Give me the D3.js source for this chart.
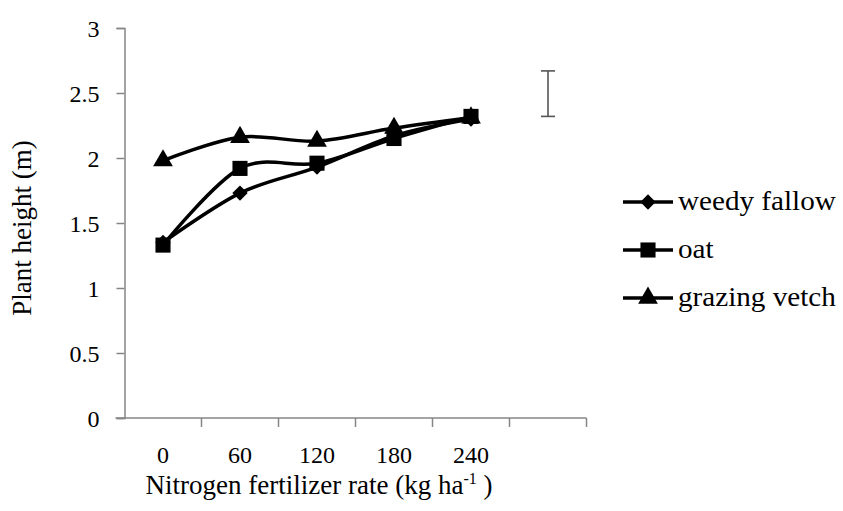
<!DOCTYPE html>
<html>
<head>
<meta charset="utf-8">
<script src="https://cdn.jsdelivr.net/npm/d3@7/dist/d3.min.js"></script>
<style>
  html, body { margin: 0; padding: 0; background: #fff; }
  svg { display: block; }
  svg text { font-family: 'Liberation Serif', 'DejaVu Serif', serif !important; fill: #000; }
</style>
</head>
<body>
<svg id="chart" width="843" height="511"></svg>
<script>
// ---- data ----
const categories = ["0", "60", "120", "180", "240", ""];
const nRates = ["0", "60", "120", "180", "240"];
const weedyFallow = [1.35, 1.73, 1.93, 2.17, 2.30];
const oat = [1.33, 1.92, 1.96, 2.15, 2.32];
const grazingVetch = [1.98, 2.16, 2.13, 2.23, 2.31];
const seriesNames = ["weedy fallow", "oat", "grazing vetch"];
const seriesSymbols = ["diamond", "square", "triangle"];
const yTicks = [0, 0.5, 1, 1.5, 2, 2.5, 3];
const lsdBar = { category: "", low: 2.32, high: 2.67 };

const series = [
  { name: seriesNames[0], symbol: seriesSymbols[0], values: weedyFallow },
  { name: seriesNames[1], symbol: seriesSymbols[1], values: oat },
  { name: seriesNames[2], symbol: seriesSymbols[2], values: grazingVetch }
];

const FONT = "Liberation Serif";

// ---- layout ----
const svg = d3.select("#chart");
const x = d3.scaleBand().domain(categories).range([124.5, 586.5]);
const y = d3.scaleLinear().domain([0, 3]).range([418, 28]);
const axisColor = "#868686";

// y axis
const gy = svg.append("g").attr("transform", `translate(${x.range()[0]},0)`)
  .call(d3.axisLeft(y).tickValues(yTicks).tickSize(8).tickPadding(17)
        .tickFormat(d3.format("")));
gy.attr("font-family", FONT);
gy.select(".domain").attr("stroke", axisColor).attr("stroke-width", 1.5);
gy.selectAll(".tick line").attr("stroke", axisColor).attr("stroke-width", 1.5);
gy.selectAll(".tick text").attr("font-size", 24).attr("fill", "#000")
  .attr("font-family", FONT)
  .attr("dy", "0.36em");

// x axis (ticks at category boundaries)
const xAxisG = svg.append("g").attr("transform", `translate(0,${y(0)})`);
xAxisG.append("line")
  .attr("x1", x.range()[0] - 9).attr("x2", x.range()[1])
  .attr("stroke", axisColor).attr("stroke-width", 1.5);
const boundaries = categories.map((c) => x(c) + x.bandwidth());
xAxisG.selectAll("line.tk").data(boundaries).enter().append("line")
  .attr("class", "tk")
  .attr("x1", d => d).attr("x2", d => d).attr("y1", 0).attr("y2", 9)
  .attr("stroke", axisColor).attr("stroke-width", 1.5);
xAxisG.selectAll("text.lbl").data(categories).enter().append("text")
  .attr("class", "lbl")
  .attr("x", d => x(d) + x.bandwidth() / 2)
  .attr("y", 45)
  .attr("text-anchor", "middle")
  .attr("font-family", FONT)
  .attr("font-size", 24)
  .text(d => d);

// axis titles
const xt = svg.append("text")
  .attr("x", 319).attr("y", 494)
  .attr("text-anchor", "middle")
  .attr("font-family", FONT)
  .attr("font-size", 27);
xt.append("tspan").text("Nitrogen fertilizer rate (kg ha");
xt.append("tspan").attr("font-size", 16).attr("dy", -10).text("-1");
xt.append("tspan").attr("dy", 10).text(" )");

svg.append("text")
  .attr("transform", "translate(31,228) rotate(-90)")
  .attr("text-anchor", "middle")
  .attr("font-family", FONT)
  .attr("font-size", 27)
  .text("Plant height (m)");

// ---- lines ----
const line = d3.line()
  .x((d, i) => x(nRates[i]) + x.bandwidth() / 2)
  .y(d => y(d))
  .curve(d3.curveCardinal.tension(0));

const symbolFor = {
  diamond: d3.symbol().type(d3.symbolDiamond2).size(150),
  square: d3.symbol().type(d3.symbolSquare2).size(290),
  triangle: d3.symbol().type(d3.symbolTriangle2).size(280)
};

series.forEach(s => {
  svg.append("path")
    .attr("d", line(s.values))
    .attr("fill", "none")
    .attr("stroke", "#000")
    .attr("stroke-width", 3.5);
});
series.forEach(s => {
  svg.selectAll(null).data(s.values).enter().append("path")
    .attr("d", symbolFor[s.symbol]())
    .attr("transform", (d, i) => `translate(${x(nRates[i]) + x.bandwidth() / 2},${y(d)})`)
    .attr("fill", "#000");
});

// ---- LSD error bar ----
const ex = x(lsdBar.category) + x.bandwidth() / 2;
const eb = svg.append("g").attr("stroke", "#555").attr("stroke-width", 1.6);
eb.append("line").attr("x1", ex).attr("x2", ex).attr("y1", y(lsdBar.high)).attr("y2", y(lsdBar.low));
eb.append("line").attr("x1", ex - 7).attr("x2", ex + 7).attr("y1", y(lsdBar.high)).attr("y2", y(lsdBar.high));
eb.append("line").attr("x1", ex - 7).attr("x2", ex + 7).attr("y1", y(lsdBar.low)).attr("y2", y(lsdBar.low));

// ---- legend ----
const legend = svg.append("g");
const legendY = [202, 250, 298];
series.forEach((s, i) => {
  const g = legend.append("g").attr("transform", `translate(623,${legendY[i]})`);
  g.append("line").attr("x1", 0).attr("x2", 50).attr("stroke", "#000").attr("stroke-width", 3.5);
  g.append("path").attr("d", symbolFor[s.symbol]()).attr("transform", "translate(25,0)").attr("fill", "#000");
  g.append("text").attr("x", 0).attr("y", 0).attr("dy", "0.3em")
    .attr("font-family", FONT)
    .attr("font-size", 27)
    .attr("transform", "translate(55,0) scale(1.08,1)")
    .text(s.name);
});
</script>
</body>
</html>
